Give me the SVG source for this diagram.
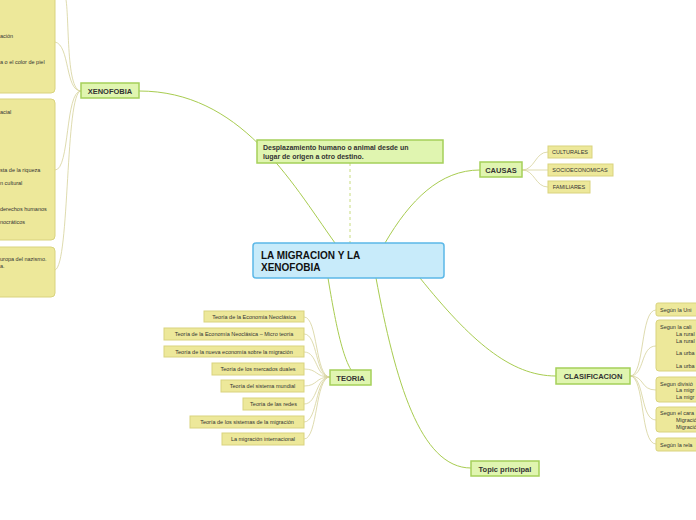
<svg xmlns="http://www.w3.org/2000/svg" width="696" height="520" viewBox="0 0 696 520">
<style>
.y{fill:#ede89a;stroke:#d9d37e;stroke-width:1}
.g{fill:#e0f5b0;stroke:#a5d05a;stroke-width:1.5}
.t{font-family:"Liberation Sans",sans-serif;font-size:5.5px;fill:#333}
.b{font-family:"Liberation Sans",sans-serif;font-size:7.5px;font-weight:bold;fill:#333}
.bc{font-family:"Liberation Sans",sans-serif;font-size:10px;font-weight:bold;fill:#111}
.bd{font-family:"Liberation Sans",sans-serif;font-size:7px;font-weight:bold;fill:#333}
.c{fill:none;stroke:#a8cc50;stroke-width:1}
.l{fill:none;stroke:#d6d29a;stroke-width:0.8}
</style>
<rect width="696" height="520" fill="#fff"/>
<g id="connectors">
<path class="c" d="M139,91 C240,91 290,180 335,243"/>
<path class="c" d="M385,243 C410,200 440,170 480,170"/>
<path class="c" d="M420,278 C470,340 510,376 556,376"/>
<path class="c" d="M328,278 C335,320 345,377 360,377"/>
<path class="c" d="M376,278 C395,380 420,468 471,468"/>
<path d="M350,163 L350,243" stroke="#c8dc80" stroke-dasharray="3,3" fill="none"/>
<path class="l" d="M81,91 C65,91 70,10 65,-5 M81,91 C65,91 70,45 55,42 M81,91 C65,91 70,170 55,170 M81,91 C65,91 70,265 55,270"/>
<path class="l" d="M522,170 C535,170 535,152 548,152 M522,170 L548,170 M522,170 C535,170 535,187 548,187"/>
<path class="l" d="M630,376 C645,376 640,310 656,310 M630,376 C645,376 640,346 656,346 M630,376 C645,376 640,390 656,390 M630,376 C645,376 640,420 656,420 M630,376 C645,376 640,444 656,444"/>
<path class="l" d="M330,377 C315,377 318,317 304,317 M330,377 C315,377 318,334 304,334 M330,377 C315,377 318,352 304,352 M330,377 C315,377 318,369 304,369 M330,377 C315,377 318,386 304,386 M330,377 C315,377 318,404 304,404 M330,377 C315,377 318,422 304,422 M330,377 C315,377 318,439 304,439"/>
</g>
<g id="left1"><rect class="y" x="-10" y="-10" width="65" height="103" rx="4"/><text class="t" x="0" y="38">ación</text><text class="t" x="0" y="64">a o el color de piel</text></g>
<g id="left2"><rect class="y" x="-10" y="99" width="65" height="141" rx="4"/><text class="t" x="0" y="114">acial</text><text class="t" x="0" y="172">sta de la riqueza</text><text class="t" x="0" y="185">n cultural</text><text class="t" x="0" y="211">derechos humanos</text><text class="t" x="0" y="224">nocráticos</text></g>
<g id="left3"><rect class="y" x="-10" y="247" width="65" height="50" rx="4"/><text class="t" x="0" y="261">uropa del nazismo.</text><text class="t" x="0" y="268">a.</text></g>
<g id="xenofobia"><rect class="g" x="81" y="83" width="58" height="15"/><text class="b" x="110" y="93.5" text-anchor="middle">XENOFOBIA</text></g>
<g id="center"><rect x="253" y="243" width="191" height="35" rx="3" fill="#c8ebfa" stroke="#5bb8e8" stroke-width="1.5"/><text class="bc" x="261" y="259">LA MIGRACION Y LA</text><text class="bc" x="261" y="271">XENOFOBIA</text></g>
<g id="desp"><rect class="g" x="257" y="140" width="186" height="23"/><text class="bd" x="263" y="150">Desplazamiento humano o animal desde un</text><text class="bd" x="263" y="158.5">lugar de origen a otro destino.</text></g>
<g id="causas"><rect class="g" x="480" y="162" width="42" height="15"/><text class="b" x="501" y="172.5" text-anchor="middle">CAUSAS</text></g>
<g id="c1"><rect class="y" x="548" y="146" width="44" height="12"/><text class="t" x="570" y="154" text-anchor="middle">CULTURALES</text></g>
<g id="c2"><rect class="y" x="548" y="164" width="65" height="12"/><text class="t" x="580" y="172" text-anchor="middle">SOCIOECONOMICAS</text></g>
<g id="c3"><rect class="y" x="548" y="181" width="42" height="12"/><text class="t" x="569" y="189" text-anchor="middle">FAMILIARES</text></g>
<g id="clasif"><rect class="g" x="556" y="368" width="74" height="16"/><text class="b" x="593" y="379" text-anchor="middle">CLASIFICACION</text></g>
<g id="r1"><rect class="y" x="656" y="303" width="50" height="13" rx="2"/><text class="t" x="660" y="312">Según la Uni</text></g>
<g id="r2"><rect class="y" x="656" y="320" width="50" height="51" rx="3"/><text class="t" x="660" y="329">Segun la cali</text><text class="t" x="676" y="336">La rural</text><text class="t" x="676" y="343">La rural</text><text class="t" x="676" y="355">La urba</text><text class="t" x="676" y="368">La urba</text></g>
<g id="r3"><rect class="y" x="656" y="377" width="50" height="25" rx="3"/><text class="t" x="660" y="386">Segun divisió</text><text class="t" x="676" y="392">La migr</text><text class="t" x="676" y="399">La migr</text></g>
<g id="r4"><rect class="y" x="656" y="407" width="50" height="25" rx="3"/><text class="t" x="660" y="415">Segun el cara</text><text class="t" x="676" y="422">Migració</text><text class="t" x="676" y="429">Migració</text></g>
<g id="r5"><rect class="y" x="656" y="438" width="50" height="13" rx="2"/><text class="t" x="660" y="447">Según la rela</text></g>
<g id="teoria"><rect class="g" x="330" y="370" width="41" height="15"/><text class="b" x="350.5" y="380.5" text-anchor="middle">TEORIA</text></g>
<g id="t1"><rect class="y" x="204" y="311" width="100" height="11"/><text class="t" x="254" y="318.5" text-anchor="middle">Teoría de la Economía Neoclásica</text></g>
<g id="t2"><rect class="y" x="164" y="328" width="140" height="12"/><text class="t" x="234" y="336" text-anchor="middle">Teoría de la Economía Neoclásica – Micro teoría</text></g>
<g id="t3"><rect class="y" x="164" y="346" width="140" height="11"/><text class="t" x="234" y="353.5" text-anchor="middle">Teoría de la nueva economía sobre la migración</text></g>
<g id="t4"><rect class="y" x="212" y="363" width="92" height="12"/><text class="t" x="258" y="371" text-anchor="middle">Teoría de los mercados duales</text></g>
<g id="t5"><rect class="y" x="221" y="380" width="83" height="12"/><text class="t" x="262.5" y="388" text-anchor="middle">Teoría del sistema mundial</text></g>
<g id="t6"><rect class="y" x="243" y="398" width="61" height="12"/><text class="t" x="273.5" y="406" text-anchor="middle">Teoría de las redes</text></g>
<g id="t7"><rect class="y" x="190" y="416" width="114" height="12"/><text class="t" x="247" y="424" text-anchor="middle">Teoría de los sistemas de la migración</text></g>
<g id="t8"><rect class="y" x="222" y="433" width="82" height="12"/><text class="t" x="263" y="441" text-anchor="middle">La migración internacional</text></g>
<g id="topic"><rect class="g" x="471" y="461" width="68" height="15"/><text class="b" x="505" y="471.5" text-anchor="middle">Topic principal</text></g>
</svg>
